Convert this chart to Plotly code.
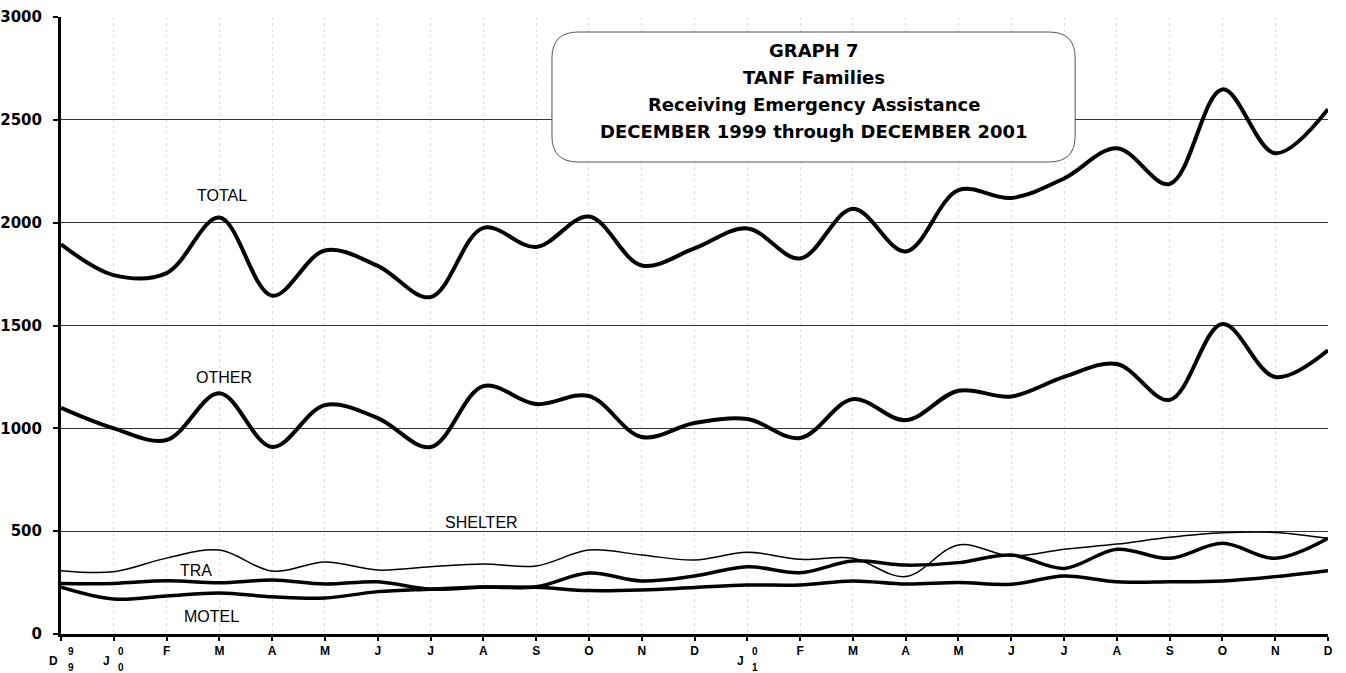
import plotly.graph_objects as go

months = ["D", "J", "F", "M", "A", "M", "J", "J", "A", "S", "O", "N",
          "D", "J", "F", "M", "A", "M", "J", "J", "A", "S", "O", "N", "D"]

total = [1895, 1745, 1755, 2025, 1645, 1865, 1790, 1638, 1975, 1882, 2030, 1792,
         1875, 1972, 1826, 2068, 1860, 2158, 2120, 2215, 2362, 2188, 2648, 2338, 2552]
other = [1100, 1000, 943, 1170, 909, 1113, 1050, 909, 1205, 1118, 1157, 958,
         1026, 1045, 953, 1142, 1040, 1183, 1155, 1250, 1313, 1138, 1507, 1250, 1380]
shelter = [308, 303, 369, 408, 306, 350, 311, 327, 340, 331, 408, 384,
           360, 397, 363, 368, 279, 433, 379, 412, 437, 470, 492, 494, 465]
tra = [246, 246, 259, 249, 262, 243, 254, 218, 228, 230, 296, 258,
       282, 327, 298, 355, 335, 347, 384, 319, 412, 368, 441, 368, 465]
motel = [228, 170, 185, 199, 181, 175, 206, 218, 228, 227, 211, 214,
         226, 238, 238, 258, 243, 250, 242, 282, 254, 254, 258, 279, 308]

x = list(range(len(months)))
FONT = "Arial, Liberation Sans, sans-serif"
HEAVY = "DejaVu Sans, Arial, sans-serif"

fig = go.Figure()
series = [("TOTAL", total, 4), ("OTHER", other, 4), ("SHELTER", shelter, 1.5),
          ("TRA", tra, 3.5), ("MOTEL", motel, 3.5)]
for name, vals, w in series:
    fig.add_trace(go.Scatter(x=x, y=vals, mode="lines", name=name,
                             line=dict(color="black", width=w, shape="spline", smoothing=1.0),
                             showlegend=False, cliponaxis=False))

ticktext = ["<b>%s</b>" % m for m in months]
special = {0: ("D", "9", "9", -8, 10), 1: ("J", "0", "0", -7, 7), 13: ("J", "0", "1", -7, 8)}
for i in special:
    ticktext[i] = ""

fig.update_layout(
    width=1346, height=673,
    margin=dict(l=61, r=18, t=17, b=39),
    paper_bgcolor="white", plot_bgcolor="white",
    font=dict(family=FONT, color="black"),
    xaxis=dict(range=[0, 24], tickvals=x, ticktext=ticktext, automargin=False,
               tickfont=dict(size=12, family=FONT),
               showline=True, linecolor="black", linewidth=3,
               ticks="outside", ticklen=4, tickwidth=2, tickcolor="black",
               showgrid=True, gridcolor="#e0e0e0", griddash="dot", gridwidth=1,
               zeroline=False),
    yaxis=dict(range=[0, 3000], tickvals=[0, 500, 1000, 1500, 2000, 2500, 3000],
               automargin=False, ticklabelstandoff=8,
               tickfont=dict(size=15, family=HEAVY, weight="bold"),
               showline=True, linecolor="black", linewidth=3,
               ticks="outside", ticklen=5, tickwidth=2, tickcolor="black",
               showgrid=True, gridcolor="#333333", gridwidth=1, zeroline=False),
)

for i, (letter, d1, d2, lx, dx) in special.items():
    fig.add_annotation(x=i, y=0, yref="y", text="<b>%s</b>" % letter, showarrow=False,
                       xshift=lx, yshift=-27, font=dict(size=12, family=FONT))
    fig.add_annotation(x=i, y=0, yref="y", text="<b>%s</b>" % d1, showarrow=False,
                       xshift=dx, yshift=-17, font=dict(size=10, family=FONT))
    fig.add_annotation(x=i, y=0, yref="y", text="<b>%s</b>" % d2, showarrow=False,
                       xshift=dx, yshift=-33, font=dict(size=10, family=FONT))

labels = [("TOTAL", 3.05, 2134), ("OTHER", 3.08, 1249), ("SHELTER", 7.97, 540),
          ("TRA", 2.56, 311), ("MOTEL", 2.86, 83)]
for txt, lx, ly in labels:
    fig.add_annotation(x=lx, y=ly, text=txt, showarrow=False,
                       font=dict(size=16, family=FONT, color="black"))

x0, x1, y0, y1 = 9.30, 19.21, 2295, 2927
rx, ry = 0.5, 125
path = (f"M {x0+rx},{y1} L {x1-rx},{y1} Q {x1},{y1} {x1},{y1-ry} "
        f"L {x1},{y0+ry} Q {x1},{y0} {x1-rx},{y0} L {x0+rx},{y0} "
        f"Q {x0},{y0} {x0},{y0+ry} L {x0},{y1-ry} Q {x0},{y1} {x0+rx},{y1} Z")
fig.add_shape(type="path", path=path, xref="x", yref="y",
              fillcolor="white", line=dict(color="#555555", width=1), layer="above")
title_lines = ["GRAPH 7", "TANF Families", "Receiving Emergency Assistance",
               "DECEMBER 1999 through DECEMBER 2001"]
title_y = [2835, 2705, 2573, 2442]
for t, ty in zip(title_lines, title_y):
    fig.add_annotation(x=(x0 + x1) / 2, y=ty, text="<b>%s</b>" % t, showarrow=False,
                       font=dict(size=18, family=HEAVY, color="black"))

fig.write_html("out.html", config={"displayModeBar": False},
               post_script="document.body.style.margin='0px';")
